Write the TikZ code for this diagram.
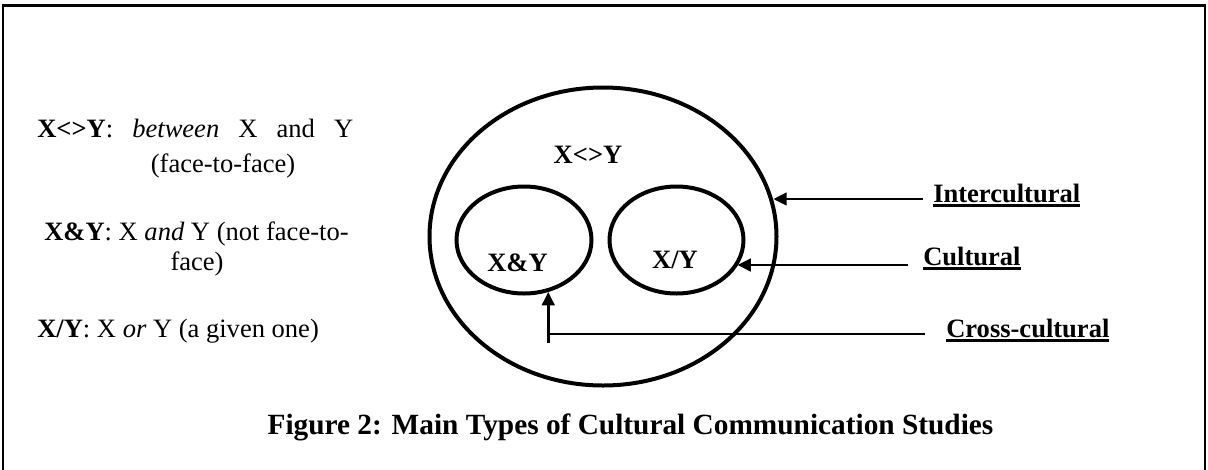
\documentclass[tikz,border=0pt]{standalone}
\usepackage{fontspec}
\setmainfont{Liberation Serif}
\usetikzlibrary{arrows.meta,shapes.geometric}
% bold label with a heavy rule under it
\newcommand\heavyul[1]{\vtop{\hbox{#1}\kern1.6pt\hrule height 2.2pt}}
\begin{document}
\begin{tikzpicture}[x=0.75pt,y=-0.75pt,
  txt/.style={inner sep=0pt, font=\fontsize{19.9}{24}\selectfont},
  ring/.style={draw, ellipse, line width=3pt, inner sep=0pt},
  pointer/.style={line width=1.9pt, -{Triangle[length=10pt,width=9.5pt]}},
  lead/.style={line width=1.9pt}]
\useasboundingbox (0,0) rectangle (1208,469);
% frame (open at the bottom edge of the page)
\draw[line width=1.8pt] (3,480) -- (3,5.5) -- (1205,5.5) -- (1205,480);

% legend
\node[txt, anchor=base west] (lg1) at (37,137)
  {\makebox[237pt][s]{\textbf{X<>Y}: \textit{between} X and Y}};
\node[txt, anchor=base] (lg1b) at (223,172) {(face-to-face)};
\node[txt, anchor=base west] (lg2) at (44,240)
  {\textbf{X\&Y}: X \textit{and} Y (not face-to-};
\node[txt, anchor=base] (lg2b) at (197,270) {face)};
\node[txt, anchor=base west] (lg3) at (37,337)
  {\textbf{X/Y}: X \textit{or} Y (a given one)};

% the three sets
\node[ring, minimum width=260.25pt, minimum height=223.5pt] (outer) at (603,236.5) {};
\node[ring, minimum width=101.25pt, minimum height=80.25pt] (andset) at (524,240) {};
\node[ring, minimum width=100.5pt, minimum height=80.25pt] (orset) at (676.5,240) {};

\node[txt, anchor=base] (tbetween) at (588,163) {\textbf{X<>Y}};
\node[txt, anchor=base] (tand) at (517.5,271) {\textbf{X\&Y}};
\node[txt, anchor=base] (tor) at (675,268) {\textbf{X/Y}};

% labels
\node[txt, anchor=base west] (lint) at (933,202) {\heavyul{\textbf{Intercultural}}};
\node[txt, anchor=base west] (lcul) at (923,265) {\heavyul{\textbf{Cultural}}};
\node[txt, anchor=base west] (lcross) at (946,337) {\heavyul{\textbf{Cross-cultural}}};

% pointers
\coordinate (sint) at (923,199);
\coordinate (scul) at (908,265);
\coordinate (scross) at (925,334);
\coordinate (sbot) at (andset.295.6 |- 0,343);
\draw[pointer] (sint) -- (sint -| outer.12.6);
\draw[pointer] (scul) -- (scul -| orset.337);
\draw[lead] (scross) -- (scross -| sbot);
\draw[pointer] (sbot) -- (andset.295.6);

% caption
\node[inner sep=0pt, anchor=base, font=\fontsize{22}{26}\selectfont\bfseries] (title)
  at (630.5,434) {Figure 2: Main Types of Cultural Communication Studies};
\end{tikzpicture}
\end{document}
